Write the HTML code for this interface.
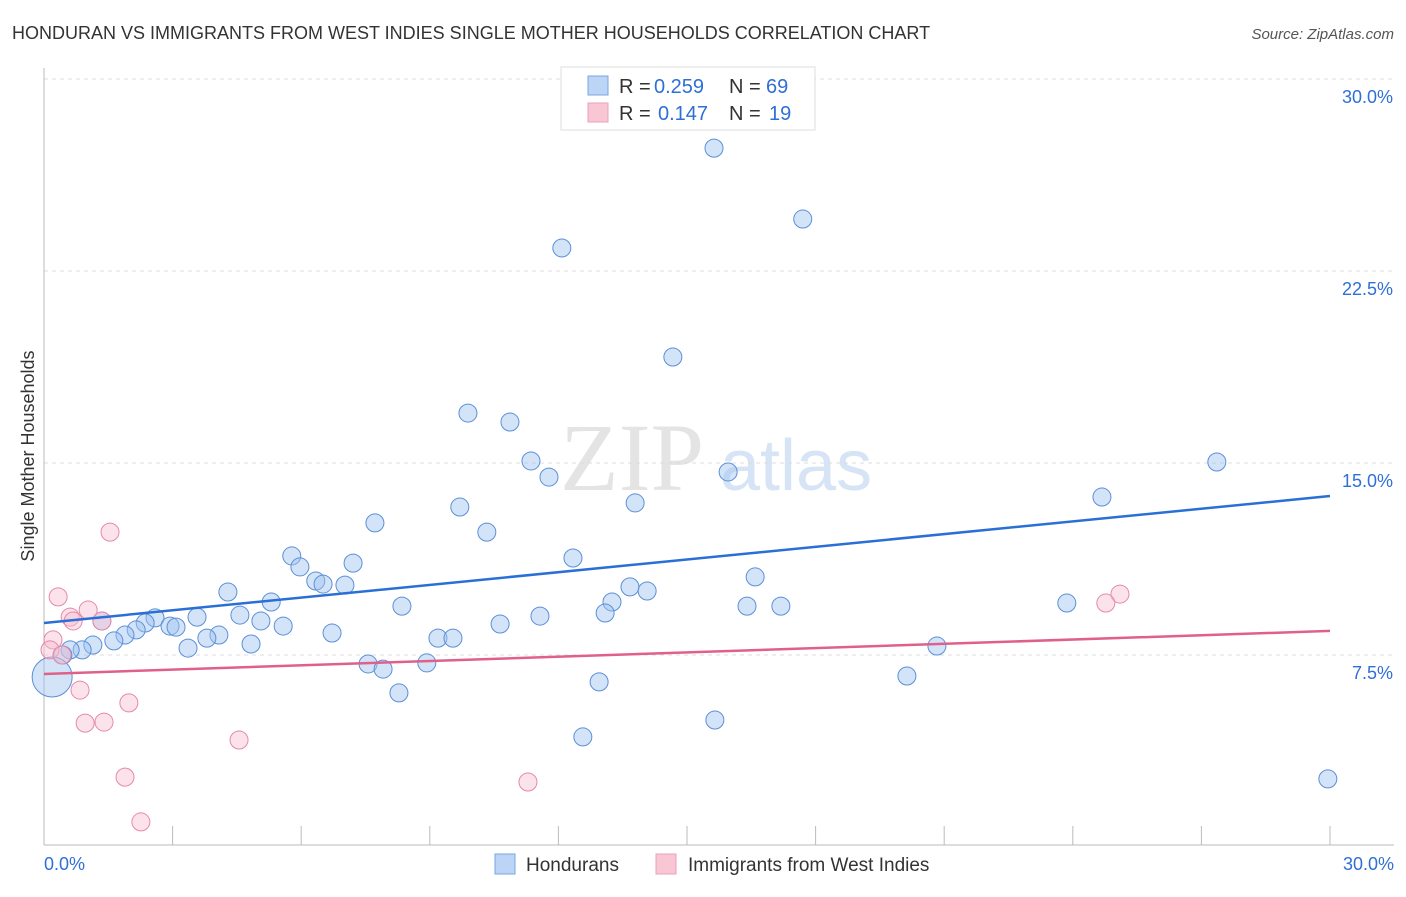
<!DOCTYPE html>
<html><head><meta charset="utf-8"><style>
body{margin:0;background:#fff;font-family:"Liberation Sans",sans-serif}
</style></head><body>
<svg id="c" width="1406" height="892" xmlns="http://www.w3.org/2000/svg" font-family="Liberation Sans, sans-serif">
<text x="12" y="39" font-size="18" fill="#333">HONDURAN VS IMMIGRANTS FROM WEST INDIES SINGLE MOTHER HOUSEHOLDS CORRELATION CHART</text>
<text x="1394" y="39" font-size="15" fill="#555" font-style="italic" text-anchor="end">Source: ZipAtlas.com</text>
<text x="560" y="490" font-size="96" fill="#e4e4e4" font-family="Liberation Serif, serif">ZIP</text>
<text x="720" y="490" font-size="72" fill="#d6e4f5">atlas</text>
<text transform="translate(34,456) rotate(-90)" font-size="18" fill="#333" text-anchor="middle">Single Mother Households</text>
<g id="grid"></g><g id="marks"></g>
<g>
<rect x="561" y="67" width="254" height="63" fill="#fff" stroke="#ddd"/>
<rect x="588" y="76" width="20" height="19" fill="#bcd4f5" stroke="#7aa6e0"/>
<rect x="588" y="103" width="20" height="19" fill="#f9c6d5" stroke="#eaa0b8"/>
<text x="619" y="93" font-size="20" fill="#333">R =</text>
<text x="654" y="93" font-size="20" fill="#2f6fd6">0.259</text>
<text x="729" y="93" font-size="20" fill="#333">N =</text>
<text x="766" y="93" font-size="20" fill="#2f6fd6">69</text>
<text x="619" y="120" font-size="20" fill="#333">R =</text>
<text x="658" y="120" font-size="20" fill="#2f6fd6">0.147</text>
<text x="729" y="120" font-size="20" fill="#333">N =</text>
<text x="769" y="120" font-size="20" fill="#2f6fd6">19</text>
</g>
<g>
<rect x="495" y="854" width="20" height="20" fill="#bcd4f5" stroke="#7aa6e0"/>
<text x="526" y="871" font-size="19" fill="#333">Hondurans</text>
<rect x="656" y="854" width="20" height="20" fill="#f9c6d5" stroke="#eaa0b8"/>
<text x="688" y="871" font-size="19" fill="#333">Immigrants from West Indies</text>
</g>
</svg>
<script>
const yTicks=[7.5,15,22.5,30];
const yTickLabels=["7.5%","15.0%","22.5%","30.0%"];
const xTickLabels=["0.0%","30.0%"];
const blueX=[15.63,17.70,12.08,14.67,9.89,10.87,11.36,11.78,15.96,27.36,24.68,9.70,13.79,7.72,10.33,12.34,5.78,5.97,7.21,6.34,6.51,7.02,16.59,4.29,13.67,14.07,13.25,5.30,8.35,23.86,16.40,17.19,13.09,4.57,5.06,2.59,3.57,11.57,2.36,2.94,3.08,10.64,5.58,1.35,2.15,1.89,6.72,4.08,3.80,1.63,9.19,9.54,4.83,1.14,3.36,20.83,0.89,0.61,0.44,7.56,7.91,8.93,20.13,12.95,8.28,15.65,12.57,29.95,0.19];
const blueY=[27.30,24.53,23.40,19.14,16.95,16.60,15.08,14.45,14.65,15.04,13.67,13.28,13.44,12.66,12.30,11.29,11.37,10.94,11.09,10.39,10.27,10.23,10.55,9.96,10.16,10.00,9.57,9.57,9.41,9.53,9.41,9.41,9.14,9.06,8.83,8.95,8.98,9.02,8.75,8.63,8.59,8.71,8.63,8.83,8.48,8.28,8.36,8.28,8.16,8.05,8.16,8.16,7.93,7.89,7.77,7.85,7.70,7.70,7.50,7.15,6.95,7.19,6.68,6.45,6.02,4.96,4.30,2.66,6.64];
const pinkX=[1.54,0.33,0.61,1.03,0.68,1.35,0.21,0.14,0.42,0.84,1.98,0.96,1.40,4.55,1.89,11.29,2.26,25.10,24.77];
const pinkY=[12.30,9.77,8.98,9.26,8.83,8.83,8.09,7.70,7.50,6.13,5.63,4.84,4.88,4.18,2.73,2.54,0.98,9.88,9.53];
const blueTrend=[8.75,13.71];
const pinkTrend=[6.76,8.44];
const NS="http://www.w3.org/2000/svg";
const sx=v=>44+v/30*1286, sy=v=>847-v/7.5*192;
function mk(t,a,p){const e=document.createElementNS(NS,t);for(const k in a)e.setAttribute(k,a[k]);p.appendChild(e);return e;}
const g=document.getElementById('grid'),m=document.getElementById('marks');
yTicks.forEach((t,i)=>{const l=mk('line',{x1:44,x2:1394,y1:sy(t),y2:sy(t),stroke:'#ddd','stroke-dasharray':'4,4'},g);


const tx=mk('text',{x:1393,y:sy(t)+24,'font-size':18,fill:'#2f6fd6','text-anchor':'end'},g);tx.textContent=yTickLabels[i];

});
const ax=mk('line',{x1:44,x2:44,y1:68,y2:845,stroke:'#bbb'},g);


const bx=mk('line',{x1:44,x2:1394,y1:845,y2:845,stroke:'#bbb'},g);


for(let k=1;k<=10;k++){const t=mk('line',{x1:44+k*128.6,x2:44+k*128.6,y1:826,y2:845,stroke:'#bbb'},g);

}
[[0,'start',44],[30,'end',1394]].forEach((d,i)=>{const t=mk('text',{x:d[2],y:870,'font-size':18,fill:'#2f6fd6','text-anchor':d[1]},g);t.textContent=xTickLabels[i];

});
blueX.forEach((x,i)=>{const c=mk('circle',{cx:sx(x),cy:sy(blueY[i]),r:i==blueX.length-1?20:9,fill:'rgba(160,195,240,0.45)',stroke:'#5b8fd8','stroke-width':1},m);

});
pinkX.forEach((x,i)=>{const c=mk('circle',{cx:sx(x),cy:sy(pinkY[i]),r:9,fill:'rgba(248,190,208,0.45)',stroke:'#e58aa8','stroke-width':1},m);

});
const bl=mk('line',{x1:sx(0),y1:sy(blueTrend[0]),x2:sx(30),y2:sy(blueTrend[1]),stroke:'#2a6fd6','stroke-width':2.5},m);


const pl=mk('line',{x1:sx(0),y1:sy(pinkTrend[0]),x2:sx(30),y2:sy(pinkTrend[1]),stroke:'#e0608a','stroke-width':2.5},m);


</script>
</body></html>
